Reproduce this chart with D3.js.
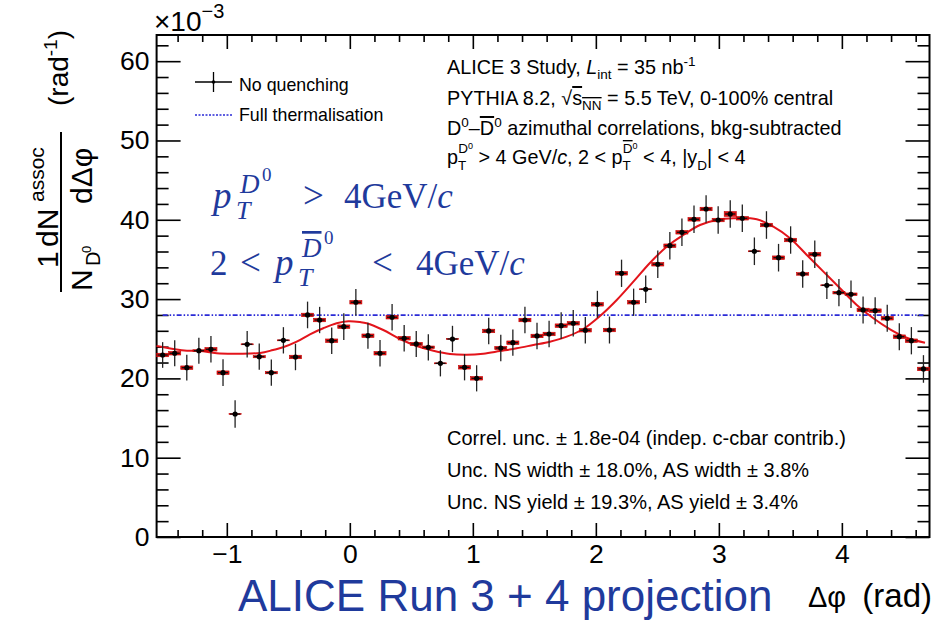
<!DOCTYPE html>
<html><head><meta charset="utf-8">
<script src="https://cdn.jsdelivr.net/npm/d3@7"></script>
<style>
html,body{margin:0;padding:0;background:#fff;}
svg{display:block;font-family:"Liberation Sans",Arial,Helvetica,sans-serif;}
</style></head>
<body>
<svg id="c" width="943" height="622"></svg>
<script>
// ---------------- data ----------------
const phiMin = -Math.PI / 2, phiMax = 3 * Math.PI / 2, nBins = 64;
const yields = [22.95,23.17,21.35,23.49,23.67,20.72,15.51,24.30,22.74,20.72,24.80,22.70,28.00,27.36,24.75,26.52,
                29.60,25.38,23.17,27.71,25.06,24.34,23.92,21.90,24.97,21.40,20.01,25.98,23.83,24.50,27.36,25.35,
                25.60,26.65,26.95,26.07,29.34,26.10,33.25,29.60,31.24,34.39,36.73,38.42,40.06,41.36,39.97,40.73,
                40.19,36.03,39.34,35.22,37.45,33.17,35.65,31.74,30.81,30.61,28.63,28.54,27.58,25.26,24.75,21.19];
const statErr = [1.62,1.65,1.62,1.65,1.66,1.68,1.72,1.66,1.65,1.65,1.66,1.67,1.68,1.66,1.66,1.68,
                 1.68,1.64,1.66,1.68,1.66,1.65,1.66,1.65,1.66,1.65,1.65,1.67,1.66,1.66,1.68,1.67,
                 1.68,1.68,1.68,1.68,1.70,1.70,1.72,1.72,1.72,1.73,1.73,1.74,1.74,1.74,1.74,1.74,
                 1.74,1.74,1.74,1.74,1.73,1.73,1.73,1.72,1.72,1.72,1.71,1.70,1.70,1.70,1.72,1.74];
const systErr = [0.22,0.22,0.22,0.12,0.22,0.22,0.06,0.06,0.14,0.14,0.06,0.22,0.22,0.22,0.22,0.22,
                 0.22,0.22,0.22,0.22,0.22,0.20,0.16,0.06,0.06,0.22,0.22,0.22,0.20,0.22,0.22,0.22,
                 0.22,0.22,0.22,0.22,0.22,0.22,0.22,0.22,0.06,0.22,0.22,0.22,0.22,0.22,0.22,0.30,
                 0.22,0.06,0.22,0.22,0.22,0.16,0.22,0.06,0.16,0.16,0.22,0.22,0.22,0.22,0.22,0.22];
// fit curve: [Δφ, value]
const fitCurve = [[-1.571,24.08],[-1.421,23.67],[-1.324,23.49],[-1.218,23.45],[-1.082,23.17],[-0.920,23.12],
  [-0.730,23.20],[-0.624,23.58],[-0.543,23.92],[-0.432,24.63],[-0.324,25.56],[-0.216,26.32],[-0.107,26.95],
  [-0.012,27.20],[0.083,27.10],[0.137,26.95],[0.272,26.10],[0.408,24.97],[0.544,24.08],[0.679,23.49],
  [0.815,23.08],[0.950,22.99],[1.085,23.12],[1.221,23.45],[1.357,23.79],[1.492,24.21],[1.627,24.63],
  [1.763,25.26],[1.898,26.23],[2.034,27.87],[2.170,29.89],[2.305,32.20],[2.441,34.59],[2.576,36.61],
  [2.711,38.08],[2.847,39.34],[2.983,39.97],[3.118,40.19],[3.308,40.06],[3.443,39.13],[3.579,37.67],
  [3.715,35.56],[3.850,33.46],[3.985,31.36],[4.121,29.26],[4.256,27.58],[4.392,26.19],[4.527,25.13],[4.676,24.50]];
const thermalLevel = 27.98;
const xTicks = [-1, 0, 1, 2, 3, 4];
const yTicks = [0, 10, 20, 30, 40, 50, 60];
const legendLabels = ["No quenching", "Full thermalisation"];
const uncLines = ["Correl. unc. \u00b1 1.8e-04 (indep. c-cbar contrib.)",
                  "Unc. NS width \u00b1 18.0%, AS width \u00b1 3.8%",
                  "Unc. NS yield \u00b1 19.3%, AS yield \u00b1 3.4%"];

// ---------------- layout ----------------
const svg = d3.select("#c");
const L = 156.6, R = 929.5, T = 35, B = 537;
const x = d3.scaleLinear().domain([phiMin, phiMax]).range([L, R]);
const y = d3.scaleLinear().domain([0, 63.3]).range([B, T]);
const binW = (phiMax - phiMin) / nBins;
const pts = yields.map((v, i) => ({phi: phiMin + (i + 0.5) * binW, v, e: statErr[i], s: systErr[i]}));

const RED = "#e3141b", BLUE = "#2a2ad6", NAVY = "#1f3a9c";
const TICKFS = 26.5;

function styleAxis(g) {
  g.select(".domain").remove();
  g.selectAll("line").attr("stroke", "#000").attr("stroke-width", 1.6);
  g.selectAll("text").attr("fill", "#000").attr("font-size", TICKFS).attr("font-family", "Liberation Sans, Arial, sans-serif");
}
const minorX = d3.range(-1.4, 4.7, 0.2).filter(v => Math.abs(v - Math.round(v)) > 0.01);
const minorY = d3.range(0, 63, 2).filter(v => v % 10 !== 0);

svg.append("g").attr("transform", `translate(0,${B})`)
  .call(d3.axisBottom(x).tickValues(xTicks).tickSize(-14).tickPadding(7).tickFormat(d => d < 0 ? "\u2212" + Math.abs(d) : d))
  .call(styleAxis);
svg.append("g").attr("transform", `translate(0,${B})`)
  .call(d3.axisBottom(x).tickValues(minorX).tickSize(-7).tickFormat("")).call(styleAxis);
svg.append("g").attr("transform", `translate(0,${T})`)
  .call(d3.axisTop(x).tickValues(xTicks).tickSize(-14).tickFormat("")).call(styleAxis);
svg.append("g").attr("transform", `translate(0,${T})`)
  .call(d3.axisTop(x).tickValues(minorX).tickSize(-7).tickFormat("")).call(styleAxis);
svg.append("g").attr("transform", `translate(${L},0)`)
  .call(d3.axisLeft(y).tickValues(yTicks).tickSize(-24).tickPadding(7)).call(styleAxis);
svg.append("g").attr("transform", `translate(${L},0)`)
  .call(d3.axisLeft(y).tickValues(minorY).tickSize(-12).tickFormat("")).call(styleAxis);
svg.append("g").attr("transform", `translate(${R},0)`)
  .call(d3.axisRight(y).tickValues(yTicks).tickSize(-24).tickFormat("")).call(styleAxis);
svg.append("g").attr("transform", `translate(${R},0)`)
  .call(d3.axisRight(y).tickValues(minorY).tickSize(-12).tickFormat("")).call(styleAxis);

svg.append("rect").attr("x", L).attr("y", T).attr("width", R - L).attr("height", B - T)
  .attr("fill", "none").attr("stroke", "#000").attr("stroke-width", 2);

// ×10^-3
const ex = svg.append("text").attr("x", 154).attr("y", 31).attr("font-size", 28);
ex.append("tspan").text("\u00d710");
ex.append("tspan").attr("dy", -13).attr("font-size", 20).text("\u22123");

// thermalisation line
svg.append("line").attr("x1", x(pts[0].phi)).attr("x2", x(pts[nBins - 1].phi))
  .attr("y1", y(thermalLevel)).attr("y2", y(thermalLevel))
  .attr("stroke", BLUE).attr("stroke-width", 1.6).attr("stroke-dasharray", "5,2,1.5,2,1.5,2");

// fit
svg.append("path").datum(fitCurve)
  .attr("d", d3.line().x(d => x(d[0])).y(d => y(d[1])).curve(d3.curveCatmullRom.alpha(0.5)))
  .attr("fill", "none").attr("stroke", RED).attr("stroke-width", 2);

// data
const hw = binW * 0.42;
const gD = svg.append("g");
gD.selectAll(".sys").data(pts).join("rect")
  .attr("x", d => x(d.phi - binW * 0.5)).attr("width", x(binW) - x(0))
  .attr("y", d => y(d.v + d.s)).attr("height", d => Math.max(0.8, y(d.v - d.s) - y(d.v + d.s)))
  .attr("fill", "#e01010").attr("stroke", "#c00000").attr("stroke-width", 0.6);
gD.selectAll(".ey").data(pts).join("line")
  .attr("x1", d => x(d.phi)).attr("x2", d => x(d.phi))
  .attr("y1", d => y(d.v - d.e)).attr("y2", d => y(d.v + d.e))
  .attr("stroke", "#222").attr("stroke-width", 1.3);
gD.selectAll(".ex").data(pts).join("line")
  .attr("x1", d => x(d.phi - hw)).attr("x2", d => x(d.phi + hw))
  .attr("y1", d => y(d.v)).attr("y2", d => y(d.v))
  .attr("stroke", "#111").attr("stroke-width", 1.3);
gD.selectAll("circle").data(pts).join("circle")
  .attr("cx", d => x(d.phi)).attr("cy", d => y(d.v)).attr("r", 2.6).attr("fill", "#000");

// legend
const lg = svg.append("g");
lg.append("line").attr("x1", 195).attr("x2", 232).attr("y1", 82).attr("y2", 82).attr("stroke", "#000").attr("stroke-width", 1.3);
lg.append("line").attr("x1", 213.5).attr("x2", 213.5).attr("y1", 72).attr("y2", 92).attr("stroke", "#000").attr("stroke-width", 1.3);
lg.append("circle").attr("cx", 213.5).attr("cy", 82).attr("r", 1.8).attr("fill", "#000");
lg.append("line").attr("x1", 195).attr("x2", 232).attr("y1", 115).attr("y2", 115).attr("stroke", BLUE).attr("stroke-width", 1.3).attr("stroke-dasharray", "2,1.5");
lg.append("text").attr("x", 239).attr("y", 91).attr("font-size", 17.8).text(legendLabels[0]);
lg.append("text").attr("x", 239).attr("y", 121).attr("font-size", 17.8).text(legendLabels[1]);

// top-right text block
const fs = 19.8, fss = 13.5;
function tline(yy) { return svg.append("text").attr("x", 447).attr("y", yy).attr("font-size", fs); }
let t = tline(74);
t.append("tspan").text("ALICE 3 Study, ");
t.append("tspan").attr("font-style", "italic").text("L");
t.append("tspan").attr("dy", 5).attr("font-size", fss).text("int");
t.append("tspan").attr("dy", -5).text(" = 35 nb");
t.append("tspan").attr("dy", -8).attr("font-size", fss).text("-1");

t = tline(105);
t.append("tspan").text("PYTHIA 8.2, ");
t.append("tspan").text("\u221a");
t.append("tspan").attr("text-decoration", "overline").text("s");
t.append("tspan").attr("dy", 5).attr("font-size", fss).attr("text-decoration", "overline").text("NN");
t.append("tspan").attr("dy", -5).text(" = 5.5 TeV, 0-100% central");

t = tline(135);
t.append("tspan").text("D");
t.append("tspan").attr("dy", -8).attr("font-size", fss).text("0");
t.append("tspan").attr("dy", 8).text("\u2013");
t.append("tspan").attr("text-decoration", "overline").text("D");
t.append("tspan").attr("dy", -8).attr("font-size", fss).text("0");
t.append("tspan").attr("dy", 8).text(" azimuthal correlations, bkg-subtracted");

t = tline(164);
t.append("tspan").text("p");
t.append("tspan").attr("dy", 6).attr("font-size", fss).text("T");
t.append("tspan").attr("dx", -8).attr("dy", -17).attr("font-size", fss).text("D");
t.append("tspan").attr("dy", -4).attr("font-size", 9).text("0");
t.append("tspan").attr("dy", 15).text(" > 4 GeV/");
t.append("tspan").attr("font-style", "italic").text("c");
t.append("tspan").text(", 2 < p");
t.append("tspan").attr("dy", 6).attr("font-size", fss).text("T");
t.append("tspan").attr("dx", -8).attr("dy", -17).attr("font-size", fss).attr("text-decoration", "overline").text("D");
t.append("tspan").attr("dy", -4).attr("font-size", 9).text("0");
t.append("tspan").attr("dy", 15).text(" < 4, |y");
t.append("tspan").attr("dy", 6).attr("font-size", fss).text("D");
t.append("tspan").attr("dy", -6).text("| < 4");

// bottom-right text
uncLines.forEach((s, i) =>
  svg.append("text").attr("x", 447).attr("y", 445 + i * 32).attr("font-size", 20).text(s));

// blue math overlay (pieces placed like a typeset formula)
const mf = "Liberation Serif, DejaVu Serif, serif";
function mathPiece(g, px, py, size, txt, italic, over) {
  const e = g.append("text").attr("x", px).attr("y", py).attr("font-size", size).attr("fill", NAVY).attr("font-family", mf).text(txt);
  if (italic) e.attr("font-style", "italic");
  if (over) e.attr("text-decoration", "overline");
  return e;
}
const mg = svg.append("g");
mathPiece(mg, 213, 208, 37, "p", true);
mathPiece(mg, 236, 219, 26, "T", true);
mathPiece(mg, 240, 193, 27, "D", true);
mathPiece(mg, 262, 181, 19, "0", false);
mathPiece(mg, 303, 208, 37, ">", false);
mathPiece(mg, 344, 208, 35, "4GeV/", false).append("tspan").attr("font-style", "italic").text("c");

mathPiece(mg, 210, 275, 35, "2", false);
mathPiece(mg, 240, 275, 37, "<", false);
mathPiece(mg, 275, 275, 37, "p", true);
mathPiece(mg, 298, 286, 26, "T", true);
mathPiece(mg, 302, 257, 27, "D", true, true);
mathPiece(mg, 324, 244, 19, "0", false);
mathPiece(mg, 372, 275, 37, "<", false);
mathPiece(mg, 416, 275, 35, "4GeV/", false).append("tspan").attr("font-style", "italic").text("c");

// bottom labels
svg.append("text").attr("x", 238).attr("y", 611).attr("font-size", 44).attr("fill", NAVY).text("ALICE Run 3 + 4 projection");
svg.append("text").attr("x", 808).attr("y", 607).attr("font-size", 29).text("\u0394\u03c6");
svg.append("text").attr("x", 932).attr("y", 607).attr("text-anchor", "end").attr("font-size", 33).text("(rad)");

// y-axis title (rotated)
const yt = svg.append("g").attr("transform", "rotate(-90)");
function rt(sx, sy, size) { return yt.append("text").attr("x", -sy).attr("y", sx).attr("font-size", size); }
rt(58, 268, 30).text("1");
rt(58, 247, 30).text("dN");
rt(44, 202, 21).text("assoc");
yt.append("line").attr("x1", -292).attr("x2", -132).attr("y1", 61).attr("y2", 61).attr("stroke", "#000").attr("stroke-width", 2);
rt(92, 291, 30).text("N");
rt(100, 266, 20).text("D");
rt(91, 253, 13).text("0");
rt(92, 204, 30).text("d\u0394\u03c6");
let rr = rt(68, 106, 28); rr.append("tspan").text("(rad"); rr.append("tspan").attr("dy", -11).attr("font-size", 19).text("-1");
rr.append("tspan").attr("dy", 11).text(")");
</script>
</body></html>
